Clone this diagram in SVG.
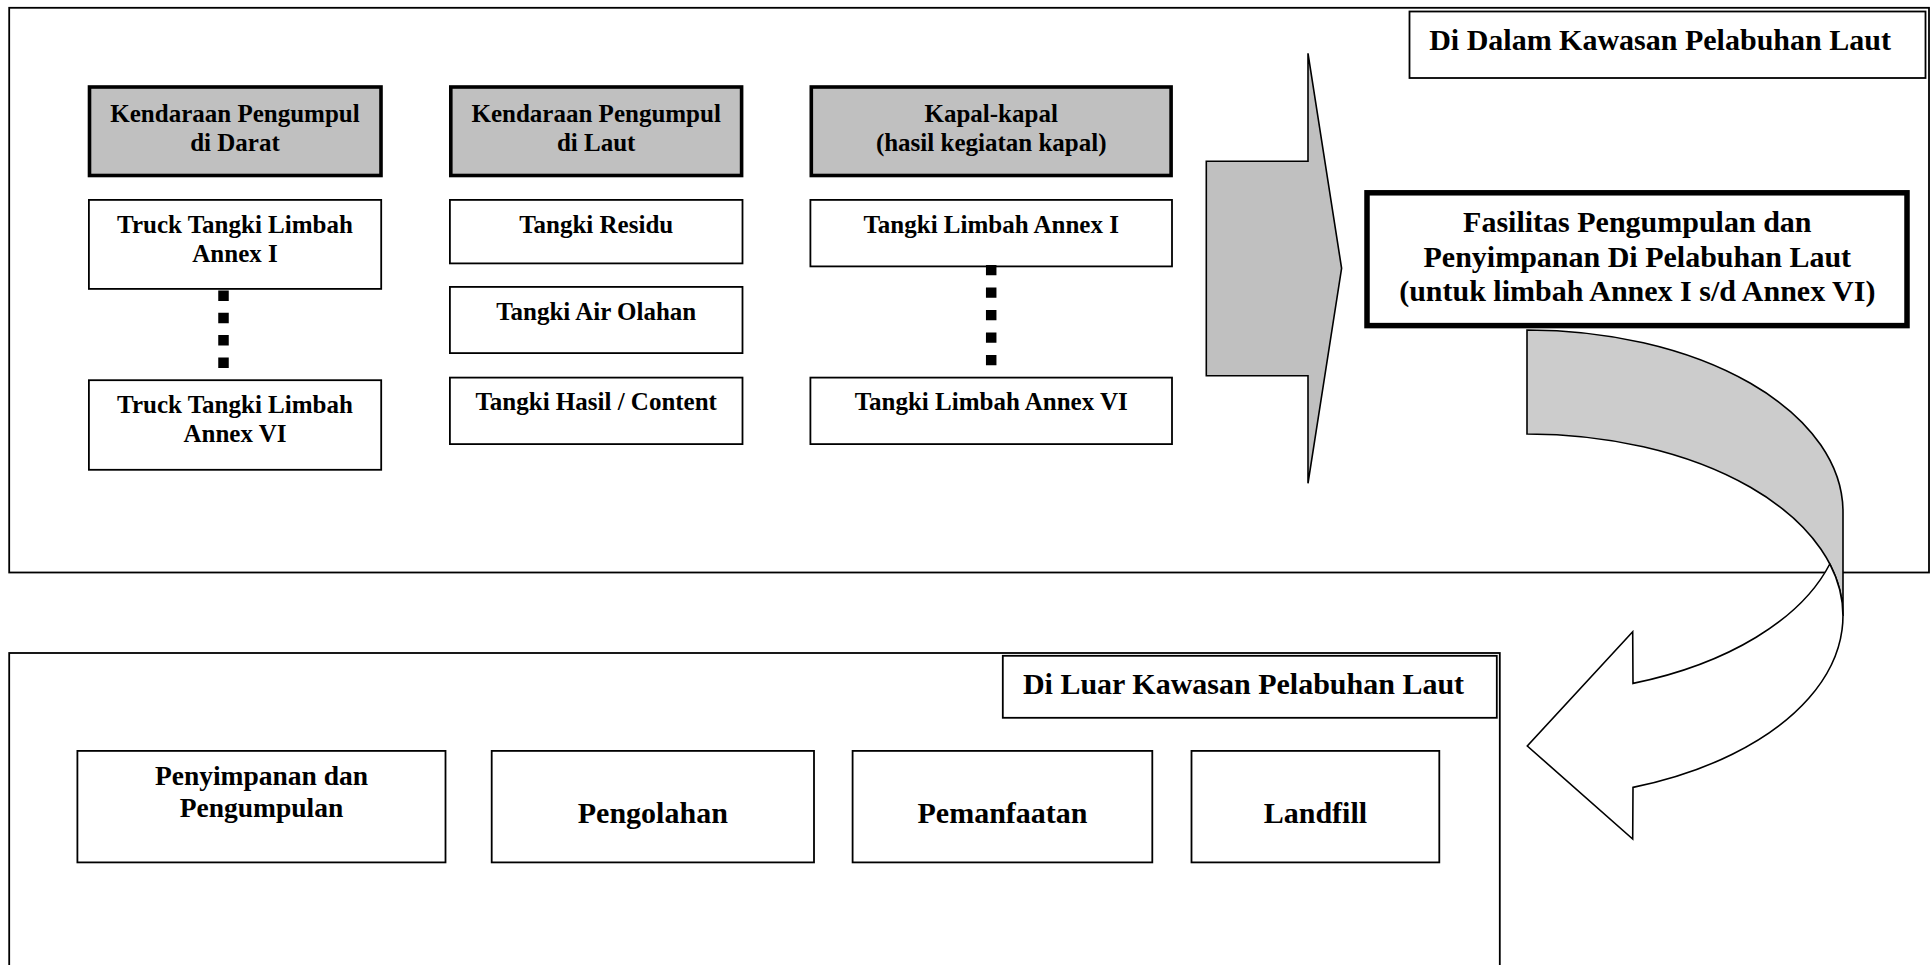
<svg xmlns="http://www.w3.org/2000/svg" width="1932" height="965" viewBox="0 0 1932 965">
  <style>
    .frame { fill: none; stroke: #000; stroke-width: 1.8; }
    .box { fill: #fff; stroke: #000; stroke-width: 1.8; }
    .head { fill: #c0c0c0; stroke: #000; stroke-width: 3.6; }
    .main { fill: #fff; stroke: #000; stroke-width: 5.5; }
    text { font-family: "Liberation Serif", "Times New Roman", serif; font-weight: bold; fill: #000; text-anchor: middle; }
    .s25 { font-size: 25px; }
    .s27 { font-size: 27.5px; }
    .s30 { font-size: 30px; }
    .dots { fill: none; stroke: #000; stroke-width: 10.5; }
    .shape { stroke: #000; stroke-width: 1.6; stroke-linejoin: miter; }
  </style>

  <rect x="0" y="0" width="1932" height="965" fill="#fff"/>

  <!-- area frames -->
  <g id="area-inside">
    <rect class="frame" x="9.2" y="7.8" width="1919.8" height="564.7"/>
    <rect class="box" x="1409.5" y="11.5" width="516" height="66.5"/>
    <text class="s30" x="1660" y="50">Di Dalam Kawasan Pelabuhan Laut</text>
  </g>
  <g id="area-outside">
    <rect class="frame" x="9.2" y="653" width="1490.6" height="330"/>
    <rect class="box" x="1002.8" y="655.8" width="494" height="62"/>
    <text class="s30" x="1243.5" y="694">Di Luar Kawasan Pelabuhan Laut</text>
  </g>

  <!-- column 1: land collection vehicles -->
  <g id="kendaraan-darat">
    <rect class="head" x="89.5" y="87" width="291.5" height="88.5"/>
    <text class="s25" x="235" y="122">Kendaraan Pengumpul</text>
    <text class="s25" x="235" y="150.5">di Darat</text>
  </g>
  <g id="truck-annex-1">
    <rect class="box" x="88.9" y="199.9" width="292.3" height="89"/>
    <text class="s25" x="235" y="233.3">Truck Tangki Limbah</text>
    <text class="s25" x="235" y="261.7">Annex I</text>
  </g>
  <g id="truck-annex-6">
    <rect class="box" x="88.9" y="380.2" width="292.3" height="89.6"/>
    <text class="s25" x="235" y="412.7">Truck Tangki Limbah</text>
    <text class="s25" x="235" y="441.7">Annex VI</text>
  </g>

  <!-- column 2: sea collection vehicles -->
  <g id="kendaraan-laut">
    <rect class="head" x="450.8" y="87" width="290.8" height="88.5"/>
    <text class="s25" x="596.2" y="122">Kendaraan Pengumpul</text>
    <text class="s25" x="596.2" y="150.5">di Laut</text>
  </g>
  <g id="tangki-residu">
    <rect class="box" x="449.9" y="199.9" width="292.6" height="63.5"/>
    <text class="s25" x="596.2" y="233.3">Tangki Residu</text>
  </g>
  <g id="tangki-air-olahan">
    <rect class="box" x="449.9" y="286.9" width="292.6" height="66.2"/>
    <text class="s25" x="596.2" y="320">Tangki Air Olahan</text>
  </g>
  <g id="tangki-hasil">
    <rect class="box" x="449.9" y="377.6" width="292.6" height="66.5"/>
    <text class="s25" x="596.2" y="410">Tangki Hasil / Content</text>
  </g>

  <!-- column 3: ships -->
  <g id="kapal">
    <rect class="head" x="811.3" y="87" width="359.8" height="88.5"/>
    <text class="s25" x="991.2" y="122">Kapal-kapal</text>
    <text class="s25" x="991.2" y="150.5">(hasil kegiatan kapal)</text>
  </g>
  <g id="tangki-annex-1">
    <rect class="box" x="810.4" y="199.9" width="361.6" height="66.5"/>
    <text class="s25" x="991.2" y="233.3">Tangki Limbah Annex I</text>
  </g>
  <g id="tangki-annex-6">
    <rect class="box" x="810.4" y="377.6" width="361.6" height="66.5"/>
    <text class="s25" x="991.2" y="410">Tangki Limbah Annex VI</text>
  </g>

  <!-- port reception facility -->
  <g id="fasilitas">
    <rect class="main" x="1367" y="192.8" width="540" height="132.8"/>
    <text class="s30" x="1637.3" y="231.7">Fasilitas Pengumpulan dan</text>
    <text class="s30" x="1637.3" y="266.5">Penyimpanan Di Pelabuhan Laut</text>
    <text class="s30" x="1637.3" y="300.5">(untuk limbah Annex I s/d Annex VI)</text>
  </g>

  <!-- destinations outside the port -->
  <g id="penyimpanan">
    <rect class="box" x="77.4" y="750.9" width="368.1" height="111.5"/>
    <text class="s27" x="261.5" y="785">Penyimpanan dan</text>
    <text class="s27" x="261.5" y="816.7">Pengumpulan</text>
  </g>
  <g id="pengolahan">
    <rect class="box" x="491.7" y="750.9" width="322.3" height="111.5"/>
    <text class="s30" x="652.8" y="822.5">Pengolahan</text>
  </g>
  <g id="pemanfaatan">
    <rect class="box" x="852.6" y="750.9" width="299.7" height="111.5"/>
    <text class="s30" x="1002.5" y="822.5">Pemanfaatan</text>
  </g>
  <g id="landfill">
    <rect class="box" x="1191.5" y="750.9" width="247.8" height="111.5"/>
    <text class="s30" x="1315.4" y="822.5">Landfill</text>
  </g>

  <!-- connectors -->
  <g id="connectors">
    <!-- dotted continuation lines -->
    <line class="dots" x1="223.5" y1="290.5" x2="223.5" y2="368.5" stroke-dasharray="10.5 11.8"/>
    <line class="dots" x1="991.2" y1="265" x2="991.2" y2="365.5" stroke-dasharray="10.3 12.2"/>

    <!-- block arrow into the facility -->
    <polygon class="shape" fill="#c0c0c0"
      points="1206.3,161.3 1308,161.3 1308,53.3 1341.6,268.3 1308,483.3 1308,375.7 1206.3,375.7"/>

    <!-- curved arrow: back face -->
    <path class="shape" fill="#cccccc"
      d="M1527,330 A316,182 0 0 1 1843,512 L1843,616 A316,182 0 0 0 1527,434 Z"/>
    <!-- curved arrow: front face with head -->
    <path class="shape" fill="#fff"
      d="M1829.8,564 A316,182 0 0 1 1633,787.4 L1632.7,839 L1527.3,746 L1632.7,631.7 L1633,683.4 A316,182 0 0 0 1829.8,564 Z"/>
  </g>
</svg>
